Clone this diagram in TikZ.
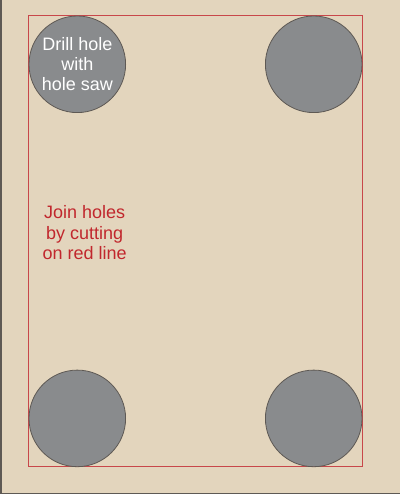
\documentclass[tikz,border=0pt]{standalone}
\usepackage{fontspec}
\setmainfont{Liberation Sans}
\definecolor{board}{HTML}{E3D5BD}
\definecolor{holegrey}{HTML}{898B8D}
\definecolor{cutred}{HTML}{C8474A}
\definecolor{textred}{HTML}{C1272D}
\definecolor{edgegrey}{HTML}{5E5954}
\tikzset{
  hole/.style={circle,draw=edgegrey,fill=holegrey,line width=0.8pt,minimum size=96.6pt,inner sep=0pt,
    font=\fontsize{18}{20}\selectfont,text=white,align=center},
  note/.style={font=\fontsize{18}{20.5}\selectfont,text=textred,align=center}
}
\begin{document}
\begin{tikzpicture}[x=1pt,y=-1pt]
		\fill[board] (0,0) rectangle (400,494);
		\useasboundingbox (0,0) rectangle (400,494);
		\draw[edgegrey,line width=1.5pt] (0.75,0)--(0.75,493.25)--(400,493.25);

		\draw[cutred,line width=1pt] (28.8,16)--(362.3,16)--(362.3,466.7)--(28.8,466.7)--cycle;

		\node[hole] (holeA) at (77.3,64.3) {Drill hole\\with\\hole saw};
		\node[hole] (holeB) at (313.7,64.3) {};
		\node[hole] (holeC) at (77.3,418.4) {};
		\node[hole] (holeD) at (313.7,418.4) {};

		\node[note] (cutnote) at (84.7,233) {Join holes\\by cutting\\on red line};
	\end{tikzpicture}
\end{document}
